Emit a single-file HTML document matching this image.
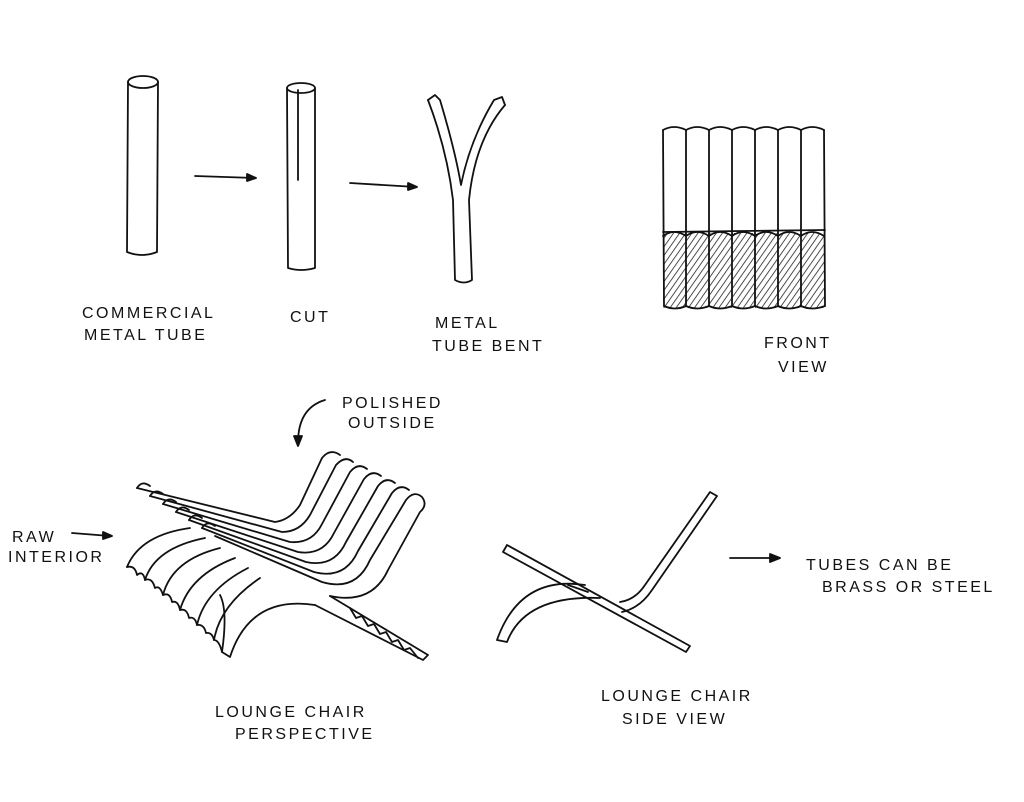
<!DOCTYPE html>
<html><head><meta charset="utf-8"><style>
html,body{margin:0;padding:0;background:#fff;width:1024px;height:802px;overflow:hidden}
svg{display:block}
text{font-family:"Liberation Sans",sans-serif;font-size:16px;letter-spacing:2.5px;fill:#111}
</style></head><body>
<svg width="1024" height="802" viewBox="0 0 1024 802" fill="none" stroke="#111" stroke-width="1.8" stroke-linecap="round" stroke-linejoin="round">
<defs><pattern id="h" width="5" height="5" patternUnits="userSpaceOnUse" patternTransform="rotate(35)"><line x1="0" y1="0" x2="0" y2="5" stroke="#222" stroke-width="1.6"/></pattern></defs>
<!-- commercial tube -->
<ellipse cx="143" cy="82" rx="15" ry="6"/>
<path d="M128 82 L127 252 Q142 258 157 252 L158 82"/>
<!-- cut -->
<ellipse cx="301" cy="88" rx="14" ry="5"/>
<path d="M287 88 L288 268 Q301 272 315 268 L315 88 M298 90 L298 180"/>
<!-- bent -->
<path d="M428 100 Q447 150 453 200 L455 280 Q464 285 472 280 L469 200 Q475 140 505 105"/>
<path d="M428 100 L435 95 L440 100 Q455 150 461 185 Q470 140 494 100 L502 97 L505 105"/>
<!-- arrows -->
<path d="M195 176 L255 178"/><path d="M247 174 L256 178 L247 181Z" fill="#111"/>
<path d="M350 183 L416 187"/><path d="M408 183 L417 187 L408 190Z" fill="#111"/>
<path d="M730 558 L778 558"/><path d="M770 554 L780 558 L770 562Z" fill="#111"/>
<path d="M72 533 L110 536"/><path d="M103 532 L112 536 L103 539Z" fill="#111"/>
<path d="M325 400 Q298 408 298 443"/><path d="M294 436 L298 446 L302 436Z" fill="#111"/>
<!-- front view -->
<g>
<rect x="663" y="233" width="162" height="75" fill="url(#h)" stroke="none"/>
<path d="M663 130 Q674 124 686 130 Q697 124 709 130 Q720 124 732 130 Q743 124 755 130 Q766 124 778 130 Q789 124 801 130 Q812 124 824 130"/>
<path d="M663 130 L664 306 M686 130 L686 306 M709 130 L709 306 M732 130 L732 306 M755 130 L755 306 M778 130 L778 306 M801 130 L801 306 M824 130 L825 306"/>
<path d="M663 236 Q674 228 686 236 Q697 228 709 236 Q720 228 732 236 Q743 228 755 236 Q766 228 778 236 Q789 228 801 236 Q812 228 824 236"/>
<path d="M663 232 L825 230"/>
<path d="M664 306 Q675 311 686 306 Q697 311 709 306 Q720 311 732 306 Q743 311 755 306 Q766 311 778 306 Q789 311 801 306 Q812 311 825 306"/>
</g>
<!-- perspective chair -->
<g>
<path d="M137 488 L275 522 Q290 520 300 505 L322 458 Q330 448 340 455"/>
<path d="M150 496 L282 532 Q300 532 310 515 L336 465 Q345 455 353 462"/>
<path d="M163 504 L290 542 Q312 544 322 524 L350 472 Q358 462 367 469"/>
<path d="M176 512 L298 552 Q323 556 334 533 L364 479 Q372 469 381 476"/>
<path d="M189 520 L306 562 Q334 568 346 542 L378 486 Q386 476 395 483"/>
<path d="M202 528 L314 572 Q345 580 358 551 L392 493 Q400 483 409 490"/>
<path d="M215 536 L322 582 Q356 592 370 560 L406 500 Q414 490 422 497 Q428 505 420 512 L388 570 Q372 605 330 596"/>
<path d="M137 488 Q142 480 150 486 M150 496 Q155 488 163 494 M163 504 Q168 496 176 502 M176 512 Q181 504 189 510 M189 520 Q194 512 202 518 M202 528 Q207 520 215 526"/>
<path d="M330 596 L428 655 L423 660 L315 605"/>
<path d="M350 608 L356 618 L362 616 L368 626 L374 624 L380 634 L386 632 L392 642 L398 640 L404 650 L410 648 L418 658"/>
<path d="M315 605 Q250 595 230 657 L222 652 Q228 610 220 595"/>
<path d="M127 567 Q140 535 190 528"/>
<path d="M145 580 Q155 548 205 538"/>
<path d="M163 595 Q172 560 220 548"/>
<path d="M180 610 Q190 575 235 558"/>
<path d="M197 625 Q205 590 248 568"/>
<path d="M214 640 Q220 605 260 578"/>
<path d="M127 567 Q135 565 137 575 Q143 570 145 580 Q152 577 155 588 Q160 585 163 595 Q170 592 172 602 Q178 600 180 610 Q187 608 189 618 Q195 616 197 625 Q204 624 206 633 Q212 632 214 640 Q219 640 222 652"/>
</g>
<!-- side view chair -->
<path d="M507 545 L690 646 L686 652 L503 552 Z"/>
<path d="M620 602 Q635 600 645 585 L710 492 L717 496 L652 590 Q640 608 622 612"/>
<path d="M585 585 Q520 575 497 640 L507 642 Q525 595 600 598"/>
<path d="M568 585 L588 592"/>
<g stroke="none">
<text x="82" y="318">COMMERCIAL</text>
<text x="84" y="340">METAL TUBE</text>
<text x="290" y="322">CUT</text>
<text x="435" y="328">METAL</text>
<text x="432" y="351">TUBE BENT</text>
<text x="764" y="348">FRONT</text>
<text x="778" y="372">VIEW</text>
<text x="342" y="408">POLISHED</text>
<text x="348" y="428">OUTSIDE</text>
<text x="12" y="542">RAW</text>
<text x="8" y="562">INTERIOR</text>
<text x="215" y="717">LOUNGE CHAIR</text>
<text x="235" y="739">PERSPECTIVE</text>
<text x="601" y="701">LOUNGE CHAIR</text>
<text x="622" y="724">SIDE VIEW</text>
<text x="806" y="570">TUBES CAN BE</text>
<text x="822" y="592">BRASS OR STEEL</text>
</g>
</svg>
</body></html>
